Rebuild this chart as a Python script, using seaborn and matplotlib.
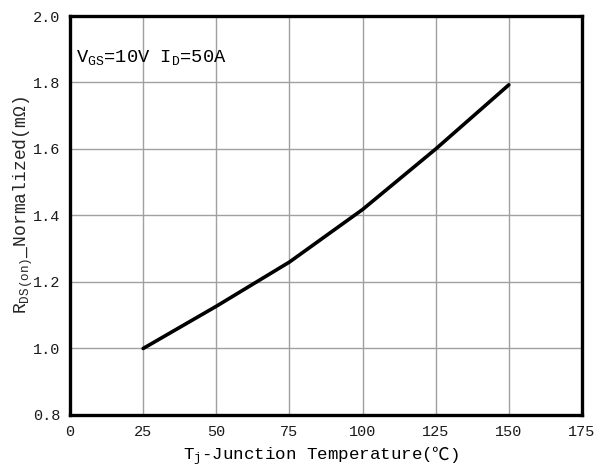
import matplotlib
matplotlib.use("Agg")
import matplotlib.pyplot as plt
from matplotlib.offsetbox import TextArea, HPacker, AnchoredOffsetbox
import seaborn as sns
import pandas as pd

# Normalized on-resistance versus junction temperature
temperature_c = [25, 50, 75, 100, 125, 150]
rds_on_normalized = [1.00, 1.127, 1.260, 1.418, 1.600, 1.793]

x_ticks = [0, 25, 50, 75, 100, 125, 150, 175]
y_ticks = [0.8, 1.0, 1.2, 1.4, 1.6, 1.8, 2.0]

df = pd.DataFrame({"Tj": temperature_c, "Rds": rds_on_normalized})

sns.set_style("white")
plt.rcParams["font.family"] = ["Liberation Mono", "Noto Sans CJK SC", "DejaVu Sans"]
plt.rcParams["mathtext.fontset"] = "custom"
plt.rcParams["mathtext.rm"] = "Liberation Mono"
plt.rcParams["mathtext.it"] = "Liberation Mono"

fig = plt.figure(figsize=(6.0, 4.72), dpi=100)
ax = fig.add_axes([0.1167, 0.1208, 0.8533, 0.8453])

sns.lineplot(data=df, x="Tj", y="Rds", ax=ax, color="black", linewidth=2.6)

ax.set_xlim(0, 175)
ax.set_ylim(0.8, 2.0)
ax.set_xticks(x_ticks)
ax.set_yticks(y_ticks)
ax.set_xticklabels([str(v) for v in x_ticks])
ax.set_yticklabels([f"{v:.1f}" for v in y_ticks])
ax.tick_params(axis="both", length=0, pad=7, labelsize=11, colors="#1a1a1a")

ax.grid(True, color="#a0a0a0", linewidth=1.0)
ax.set_axisbelow(True)
for spine in ax.spines.values():
    spine.set_visible(True)
    spine.set_color("black")
    spine.set_linewidth(2.4)

# x label: the degree-Celsius sign comes from a CJK font, the rest is monospace
label_size = 12.6
mono = dict(fontsize=label_size, color="black", fontfamily="Liberation Mono")
cjk = dict(fontsize=label_size, color="black", fontfamily="Noto Sans CJK SC")
xlabel_box = HPacker(
    children=[
        TextArea("T$_{\\rm j}$-Junction Temperature(", textprops=mono),
        TextArea("\u2103", textprops=cjk),
        TextArea(")", textprops=mono),
    ],
    align="baseline", pad=0, sep=0,
)
anchored = AnchoredOffsetbox(
    loc="upper center", child=xlabel_box, pad=0, borderpad=0, frameon=False,
    bbox_to_anchor=(0.49, -0.075), bbox_transform=ax.transAxes,
)
ax.add_artist(anchored)
ax.set_xlabel("")

ax.set_ylabel("R$_{\\rm DS(on)}$_Normalized(m\u03a9)", fontsize=13)
ax.yaxis.label.set_verticalalignment("center")
ax.yaxis.set_label_coords(-0.092, 0.526)

ax.text(2, 1.875, "V$_{\\rm GS}$=10V I$_{\\rm D}$=50A", fontsize=13.5,
        ha="left", va="center", color="black")

fig.savefig("out.png", dpi=100)
